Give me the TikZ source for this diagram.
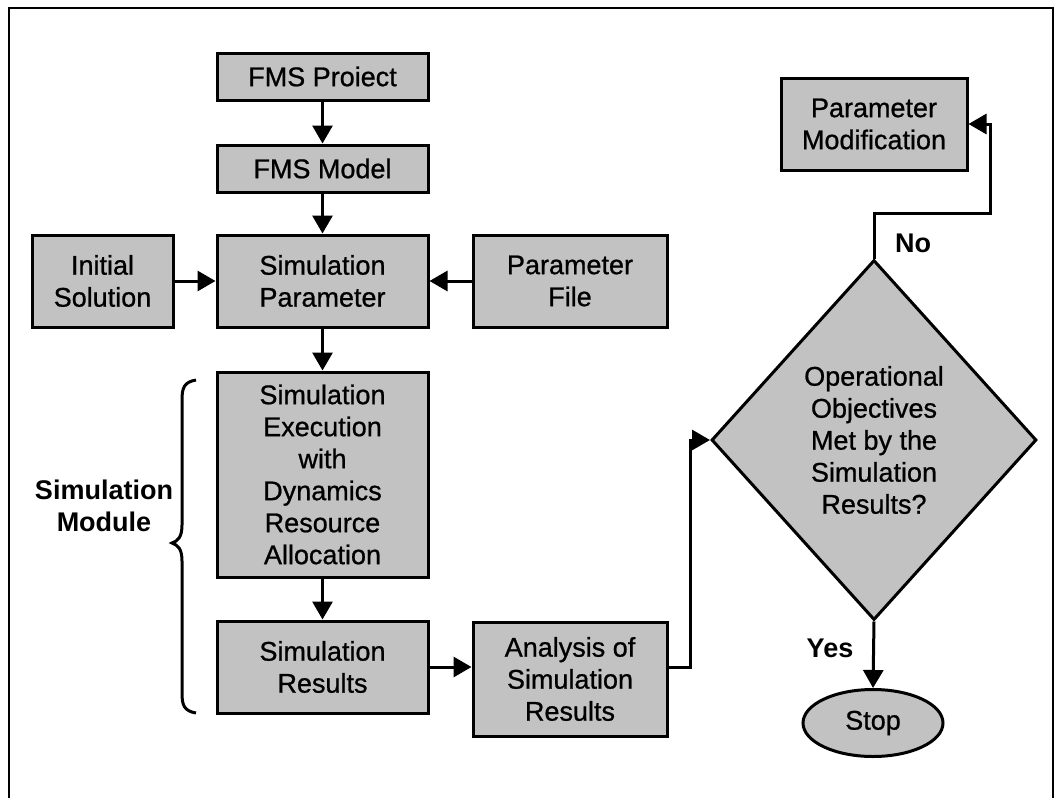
\documentclass[tikz,border=0pt]{standalone}
\usepackage{fontspec}
\setmainfont{Liberation Sans}
\newfontfamily\boxfont{Liberation Sans}[FakeBold=0.8]
\usetikzlibrary{arrows.meta,shapes.geometric,calc}
\begin{document}
\begin{tikzpicture}[x=1pt,y=-1pt,
  every node/.style={font=\boxfont\fontsize{27}{32}\selectfont},
  box/.style={draw,line width=3pt,fill=black!24,align=center,inner sep=0pt},
  conn/.style={line width=3pt,-{Triangle[length=18pt,width=20pt]}},
  lbl/.style={font=\fontsize{27}{32}\selectfont\bfseries,align=center}]
\useasboundingbox (0,0) rectangle (1061,798);
\draw[line width=2.5pt] (9,798) -- (9,8) -- (1053,8) -- (1053,798);
\node[box,minimum width=211pt,minimum height=47pt] (proj) at (322.5,76.5) {FMS Proiect};
\node[box,minimum width=211pt,minimum height=47pt] (model) at (322.5,168.5) {FMS Model};
\node[box,minimum width=211pt,minimum height=92pt] (param) at (322.5,281) {Simulation\\Parameter};
\node[box,minimum width=141pt,minimum height=92pt] (init) at (102.5,281) {Initial\\Solution};
\node[box,minimum width=194pt,minimum height=92pt] (pfile) at (570,281) {Parameter\\File};
\node[box,minimum width=211pt,minimum height=205pt] (exec) at (322.5,474.5) {Simulation\\Execution\\with\\Dynamics\\Resource\\Allocation};
\node[box,minimum width=211pt,minimum height=92pt] (res) at (322.5,667) {Simulation\\Results};
\node[box,minimum width=194pt,minimum height=114pt] (anal) at (570,679) {Analysis of\\Simulation\\Results};
\node[box,minimum width=186pt,minimum height=92pt] (mod) at (874,124) {Parameter\\Modification};
\node[box,diamond,minimum width=325pt,minimum height=360pt] (dec) at (874,440) {Operational\\Objectives\\Met by the\\Simulation\\Results?};
\node[box,ellipse,minimum width=140pt,minimum height=67pt] (stop) at (873,723) {Stop};
\node[lbl] (simmod) at (104,506) {Simulation\\Module};
\node[lbl] (no) at (913,243) {No};
\node[lbl] (yes) at (830,648) {Yes};
\draw[line width=3pt] (196,380) .. controls (184,382) and (182,388) .. (182,400)
  -- (182,525) .. controls (182,537) and (178,541) .. (172,543)
  .. controls (178,545) and (182,549) .. (182,561)
  -- (182,693) .. controls (182,705) and (184,711) .. (196,713);
\draw[conn] (proj.south) -- (model.north);
\draw[conn] (model.south) -- (param.north);
\draw[conn] (init.east) -- (param.west);
\draw[conn] (pfile.west) -- (param.east);
\draw[conn] (param.south) -- (exec.north);
\draw[conn] (exec.south) -- (res.north);
\draw[conn] (res.east) -- (res.east -| anal.west);
\draw[conn] (anal.east |- res.east) -- ++(22,0) |- (dec.west);
\draw[conn] (dec.north) -- ++(0,-45) -| ($(mod.east)+(22,0)$) -- (mod.east);
\draw[conn] (dec.south) -- (stop.north);
\end{tikzpicture}
\end{document}
